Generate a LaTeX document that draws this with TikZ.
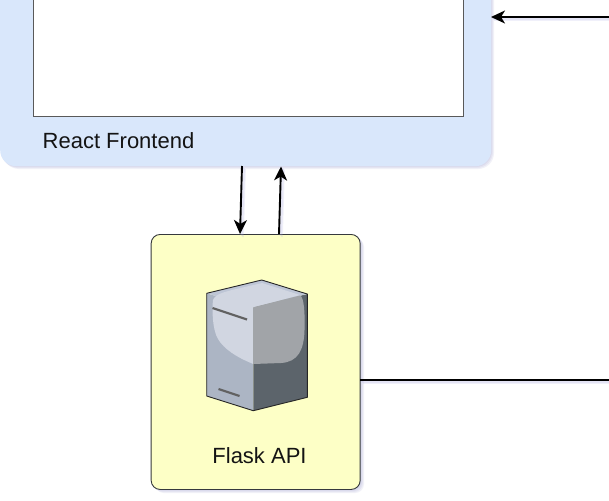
\documentclass[tikz,border=0pt]{standalone}
\usepackage{fontspec}
\setmainfont{Liberation Sans}
\usetikzlibrary{arrows.meta}
\definecolor{feblue}{HTML}{D9E7FB}
\definecolor{apiyellow}{HTML}{FDFFC6}
\definecolor{boxedge}{HTML}{36393D}
\tikzset{
  conn/.style={draw=black,line width=1.9pt,-{Stealth[length=14pt,width=13pt,inset=4pt]}},
  plainconn/.style={draw=black,line width=1.9pt},
  lbl/.style={font=\fontsize{22}{26}\selectfont,text=black!92,inner sep=0pt},
  srvedge/.style={draw=black!85,line width=0.9pt,line join=round},
  shadowline/.style={draw=black!35!blue!35,opacity=0.16,line width=1.7pt},
  softshadow/.style={fill=black!50!blue!40,opacity=0.13,draw=none}
}
\begin{document}
\begin{tikzpicture}[x=1pt,y=-1pt]
\useasboundingbox (0,0) rectangle (609,500);
\clip (0,0) rectangle (609,500);
\fill[white] (0,0) rectangle (609,500);
% frontend shadow
\foreach \d in {1,2,3}{\fill[softshadow,rounded corners=16pt] (0+\d,-40+\d) rectangle (491+\d,166+\d);}
\node[draw=none,fill=feblue,rounded corners=16pt,minimum width=491pt,minimum height=206pt,inner sep=0pt,anchor=north west] (frontend) at (0,-40) {};
\node[draw=black!65,line width=0.8pt,fill=white,minimum width=430pt,minimum height=156.5pt,inner sep=0pt,anchor=south west] (canvas) at (33,116.5) {};
\node[lbl,anchor=center] (felabel) at (118.5,140.5) {React Frontend};
% api
\foreach \d in {1,2,3,4}{\fill[softshadow,rounded corners=9pt] (151+\d,234+\d) rectangle (360+\d,489+\d);}
\node[draw=boxedge,line width=0.9pt,fill=apiyellow,rounded corners=9pt,minimum width=209pt,minimum height=255pt,inner sep=0pt,anchor=north west] (api) at (150.7,234) {};
\node[lbl,anchor=center] (apilabel) at (259.5,456) {Flask API};
% server icon
\fill[color={rgb,255:red,172;green,181;blue,196}] (206.7,293.3) -- (253.3,307.3) -- (253.3,410.7) -- (206.7,396) -- cycle;
\fill[color={rgb,255:red,92;green,100;blue,107}] (253.3,307.3) -- (307.3,294) -- (307.3,397.3) -- (253.3,410.7) -- cycle;
\fill[color={rgb,255:red,190;green,198;blue,214}] (206.7,293.3) -- (261.7,280) -- (307.3,294) -- (253.3,307.3) -- cycle;
% rounded highlight
\fill[color={rgb,255:red,209;green,214;blue,225}] (253.3,307.3) -- (253.3,364) .. controls (236,357) and (224,349) .. (218,339) .. controls (212,329) and (212,308) .. (213,300) .. controls (215,294) and (225,292) .. (232,290) -- (262,283) -- (300,295) -- cycle;
\fill[color={rgb,255:red,161;green,164;blue,168}] (253.3,307.3) -- (300,295.5) .. controls (304,297) and (305,312) .. (304.5,330) .. controls (304,350) and (298,362) .. (281,363) -- (253.3,364) -- cycle;
\path[srvedge] (206.7,293.3) -- (261.7,280) -- (307.3,294) -- (307.3,397.3) -- (253.3,410.7) -- (206.7,396) -- cycle;
\draw[draw=black!62,line width=2.2pt] (212.5,308) -- (247,319.5);
\draw[draw=black!62,line width=2.2pt] (218.5,389) -- (239.5,396);
% connectors
\coordinate (feA) at (242,166);
\coordinate (apiA) at (240,234);
\coordinate (apiB) at (279,234);
\coordinate (feB) at (281,166.5);
\coordinate (rightin) at (609,17);
\coordinate (feC) at (491,17);
\coordinate (apiC) at (360,380);
\coordinate (rightout) at (609,380);
\foreach \d in {1,2,3}{
\draw[shadowline] ([shift={(\d,\d)}]feA) -- ([shift={(\d,\d)}]apiA);
\draw[shadowline] ([shift={(\d,\d)}]apiB) -- ([shift={(\d,\d)}]feB);
\draw[shadowline] ([shift={(\d,\d)}]rightin) -- ([shift={(\d,\d)}]feC);
\draw[shadowline] ([shift={(\d,\d)}]apiC) -- ([shift={(\d,\d)}]rightout);
}
\draw[conn] (feA) -- (apiA);
\draw[conn] (apiB) -- (feB);
\draw[conn] (rightin) -- (feC);
\draw[plainconn] (apiC) -- (rightout);
\end{tikzpicture}
\end{document}
